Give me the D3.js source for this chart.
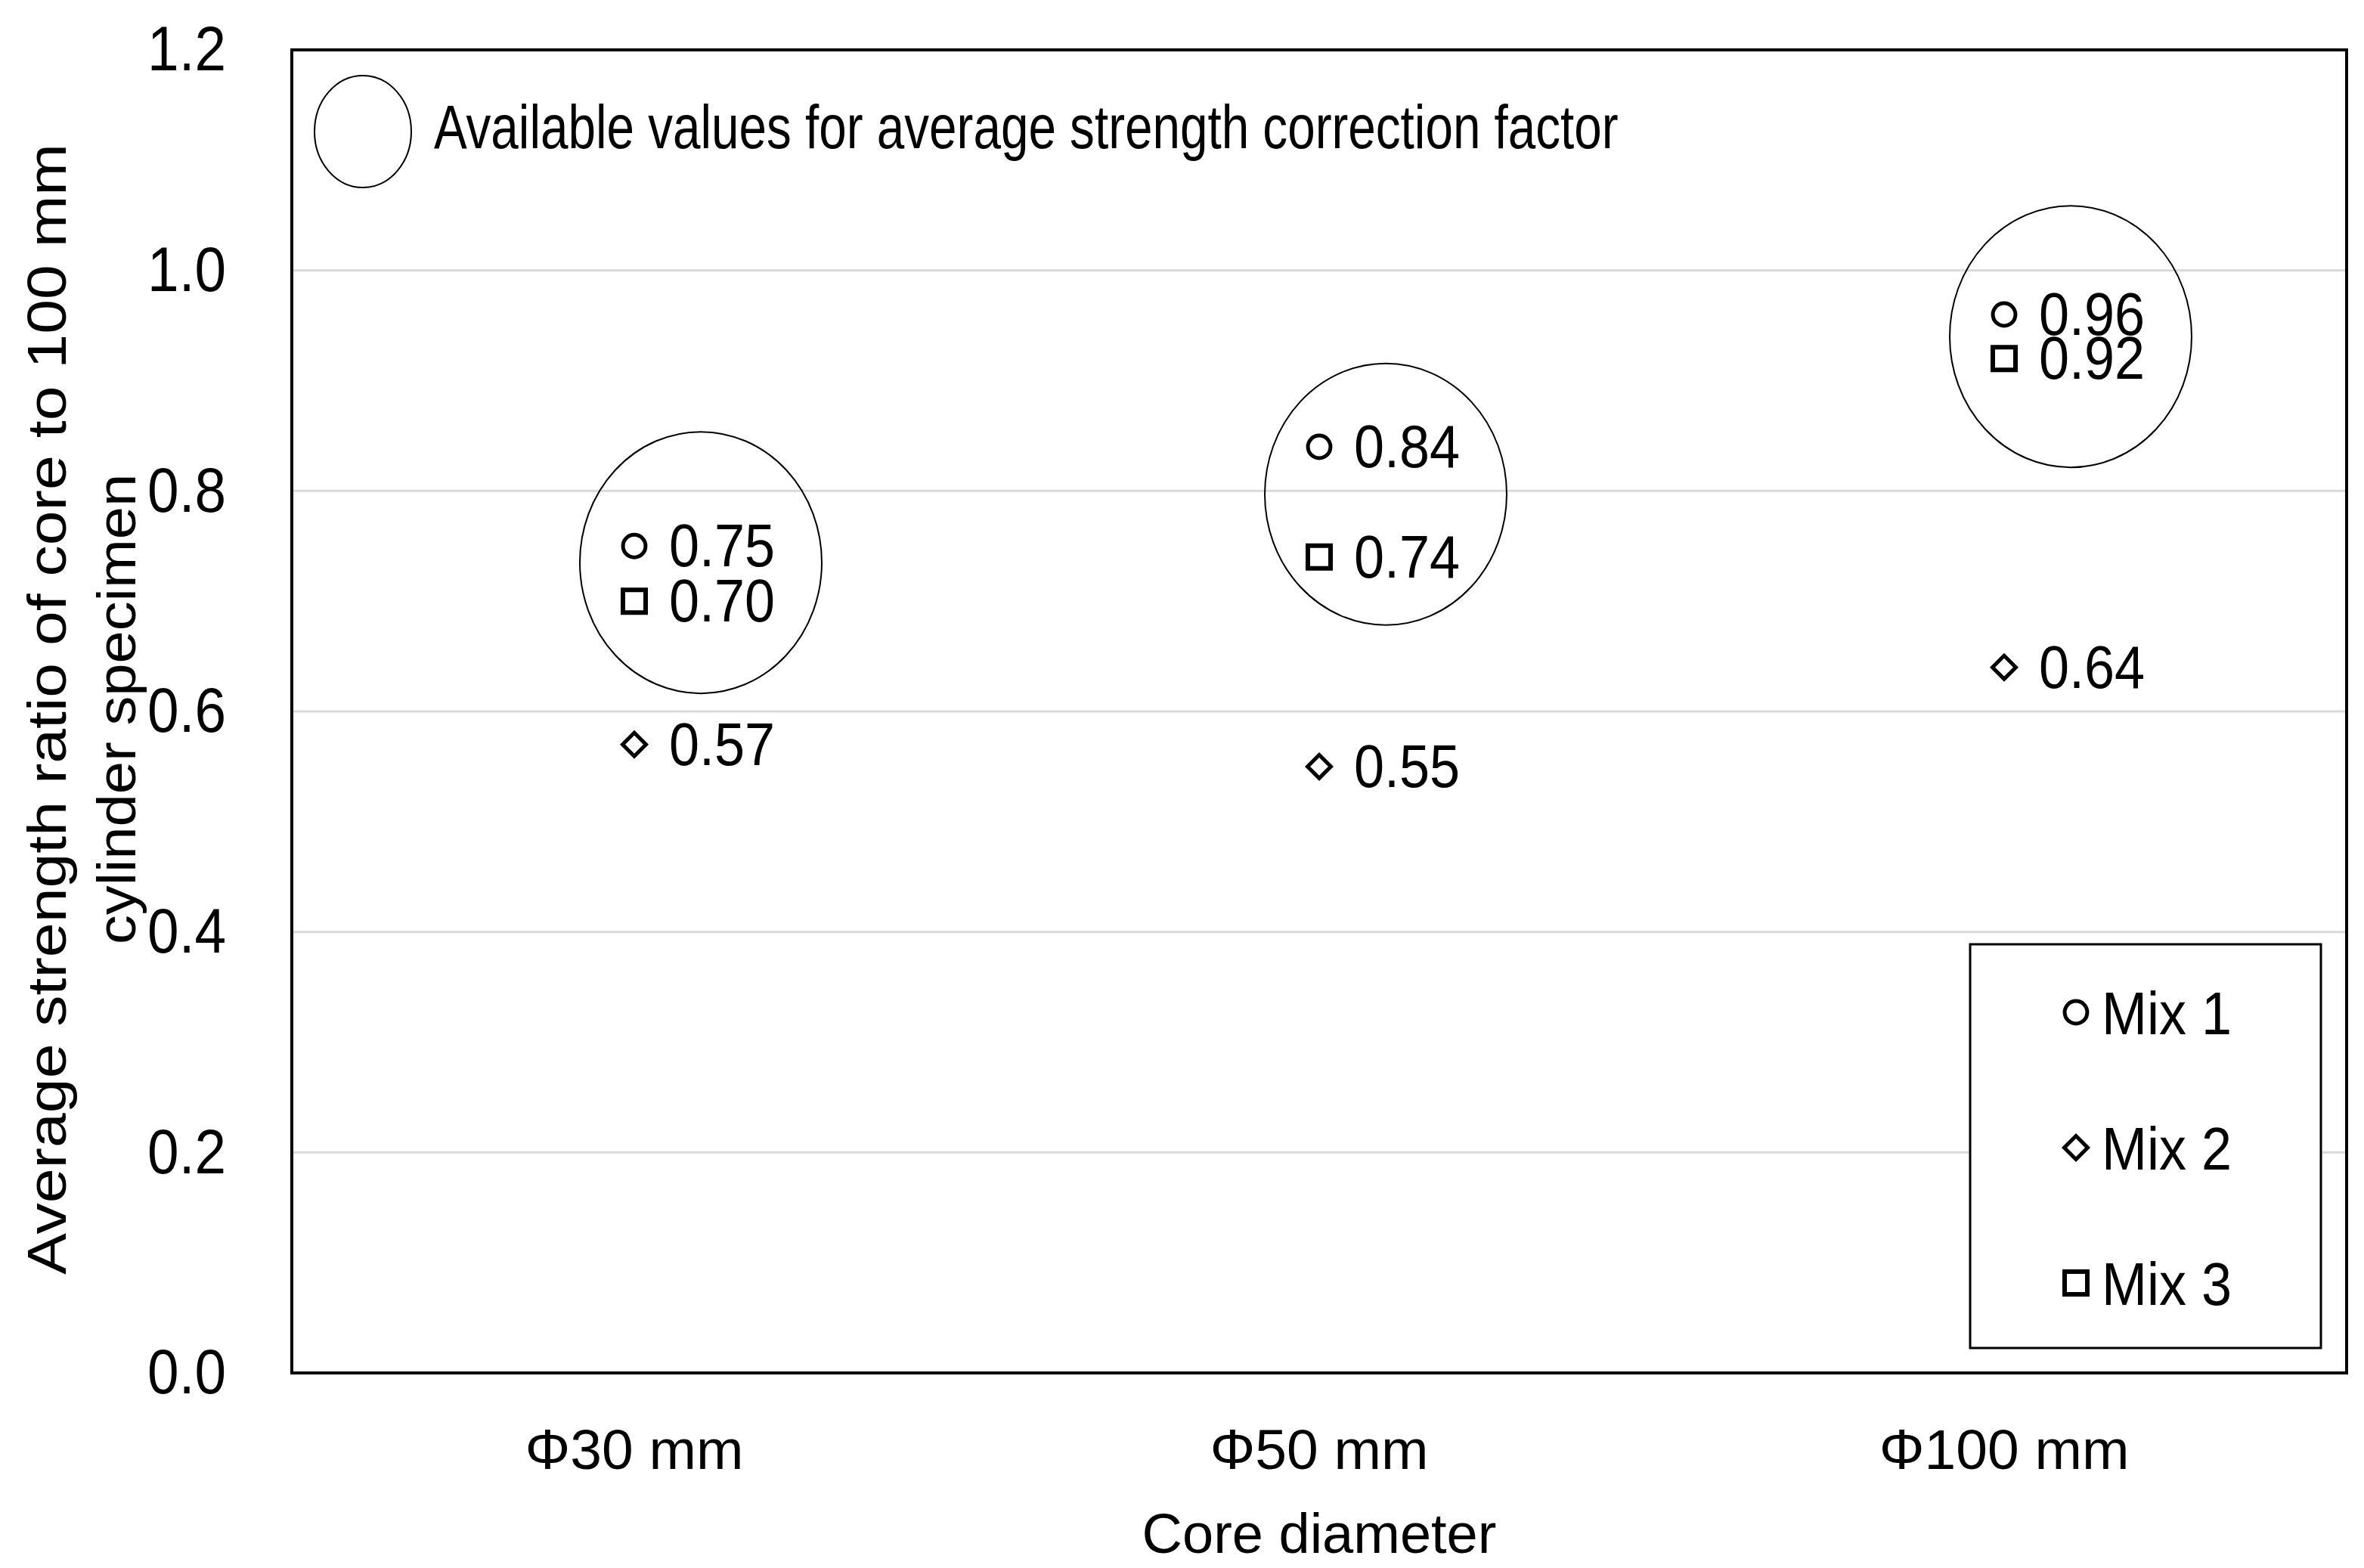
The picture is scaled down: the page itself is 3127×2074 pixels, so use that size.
<!DOCTYPE html>
<html>
<head>
<meta charset="utf-8">
<script src="https://cdn.jsdelivr.net/npm/d3@7"></script>
<style>
  body { margin: 0; background: #fff; }
  text { font-family: "Liberation Sans", Arial, sans-serif; fill: #000; }
</style>
</head>
<body>
<div class="main"></div>
<script>
const categories = ["Φ30 mm", "Φ50 mm", "Φ100 mm"];
const mixNames = ["Mix 1", "Mix 2", "Mix 3"];
const mix1 = [0.75, 0.84, 0.96];
const mix2 = [0.57, 0.55, 0.64];
const mix3 = [0.7, 0.74, 0.92];
const yTicks = [0, 0.2, 0.4, 0.6, 0.8, 1.0, 1.2];
// centre (in ratio units) of the rings drawn round Mix 1 / Mix 3 values
const ringCentre = [0.735, 0.797, 0.94];
const annotation = "Available values for average strength correction factor";

let margin = { top: 66, right: 23, bottom: 258, left: 386 };
let fullwidth = 3127;
let fullheight = 2074;
let width = fullwidth - margin.left - margin.right;
let height = fullheight - margin.top - margin.bottom;

// the original texts are a bit narrow (stretched figure), squeeze them round their anchor
function squeeze(sel, sx) {
  sel.each(function () {
    const t = d3.select(this);
    const x0 = +t.attr("x") || 0;
    const y0 = +t.attr("y") || 0;
    t.attr(
      "transform",
      "translate(" + x0 + "," + y0 + ") scale(" + sx + ",1) translate(" + -x0 + "," + -y0 + ")"
    );
  });
}

const root = d3
  .select(".main")
  .append("svg")
  .attr("width", fullwidth)
  .attr("height", fullheight);

const svg = root
  .append("g")
  .attr("transform", "translate(" + margin.left + "," + margin.top + ")");

const x = d3.scaleBand().domain(categories).range([0, width]).padding(0);
const y = d3.scaleLinear().domain([0, 1.2]).range([height, 0]);

// gridlines
svg
  .append("g")
  .selectAll("line")
  .data(yTicks.filter((d) => d > 0 && d < 1.2))
  .join("line")
  .attr("x1", 0)
  .attr("x2", width)
  .attr("y1", (d) => y(d))
  .attr("y2", (d) => y(d))
  .attr("stroke", "#d9d9d9")
  .attr("stroke-width", 3);

// axes
const yAxis = svg
  .append("g")
  .call(
    d3.axisLeft(y).tickValues(yTicks).tickSize(0).tickPadding(87).tickFormat(d3.format(".1f"))
  );
yAxis.select(".domain").remove();
yAxis.selectAll("text").style("font-size", "84px").attr("font-family", null).call(squeeze, 0.89);

const xAxis = svg
  .append("g")
  .attr("transform", "translate(0," + height + ")")
  .call(d3.axisBottom(x).tickSize(0).tickPadding(74));
xAxis.select(".domain").remove();
xAxis.selectAll("text").style("font-size", "75px").attr("font-family", null);

// frame
svg
  .append("rect")
  .attr("width", width)
  .attr("height", height)
  .attr("fill", "none")
  .attr("stroke", "#000")
  .attr("stroke-width", 4);

// axis titles
root
  .append("text")
  .attr("x", margin.left + width / 2)
  .attr("y", 2054)
  .attr("text-anchor", "middle")
  .style("font-size", "74px")
  .text("Core diameter");

const ytitle = root
  .append("text")
  .attr("transform", "translate(87,938) rotate(-90) scale(1.08,1)")
  .attr("text-anchor", "middle")
  .style("font-size", "72px");
ytitle
  .append("tspan")
  .attr("x", 0)
  .attr("y", 0)
  .attr("textLength", 1385)
  .attr("lengthAdjust", "spacingAndGlyphs")
  .text("Average strength ratio of core to 100 mm");
ytitle.append("tspan").attr("x", 0).attr("y", 92).text("cylinder specimen");

// rings round the usable values
svg
  .append("g")
  .selectAll("ellipse")
  .data(categories)
  .join("ellipse")
  .attr("cx", (d) => x(d) + x.bandwidth() / 2 + 88)
  .attr("cy", (d, i) => y(ringCentre[i]))
  .attr("rx", 160)
  .attr("ry", 173)
  .attr("fill", "none")
  .attr("stroke", "#000")
  .attr("stroke-width", 2);

// annotation key
svg
  .append("ellipse")
  .attr("cx", 94)
  .attr("cy", 108)
  .attr("rx", 64)
  .attr("ry", 74)
  .attr("fill", "none")
  .attr("stroke", "#000")
  .attr("stroke-width", 2);
svg
  .append("text")
  .attr("x", 188)
  .attr("y", 130)
  .style("font-size", "82px")
  .text(annotation)
  .call(squeeze, 0.8);

// markers
const symbols = [
  { type: d3.symbolCircle, size: 700, rot: 0, sw: 5 },
  { type: d3.symbolSquare, size: 480, rot: 45, sw: 5 },
  { type: d3.symbolSquare, size: 900, rot: 0, sw: 6 },
];
const series = [mix1, mix2, mix3];
const fmt = d3.format(".2f");

series.forEach((vals, s) => {
  const g = svg.append("g");
  const pts = vals.map((v, i) => ({ cat: categories[i], v: v }));
  g.selectAll("path")
    .data(pts)
    .join("path")
    .attr("d", d3.symbol().type(symbols[s].type).size(symbols[s].size))
    .attr(
      "transform",
      (d) =>
        "translate(" + (x(d.cat) + x.bandwidth() / 2) + "," + y(d.v) + ") rotate(" + symbols[s].rot + ")"
    )
    .attr("fill", "none")
    .attr("stroke", "#000")
    .attr("stroke-width", symbols[s].sw);
  g.selectAll("text")
    .data(pts)
    .join("text")
    .attr("x", (d) => x(d.cat) + x.bandwidth() / 2 + 46)
    .attr("y", (d) => y(d.v) + 27)
    .style("font-size", "80px")
    .text((d) => fmt(d.v))
    .call(squeeze, 0.9);
});

// legend
const lg = root.append("g").attr("transform", "translate(2606,1249)");
lg.append("rect")
  .attr("width", 464)
  .attr("height", 534)
  .attr("fill", "#fff")
  .attr("stroke", "#000")
  .attr("stroke-width", 3);
mixNames.forEach((name, i) => {
  const yy = 90 + i * 179;
  lg.append("path")
    .attr("d", d3.symbol().type(symbols[i].type).size(symbols[i].size)())
    .attr("transform", "translate(140," + yy + ") rotate(" + symbols[i].rot + ")")
    .attr("fill", "none")
    .attr("stroke", "#000")
    .attr("stroke-width", symbols[i].sw);
  lg.append("text")
    .attr("x", 174)
    .attr("y", yy + 29)
    .style("font-size", "80px")
    .text(name)
    .call(squeeze, 0.9);
});
</script>
</body>
</html>
